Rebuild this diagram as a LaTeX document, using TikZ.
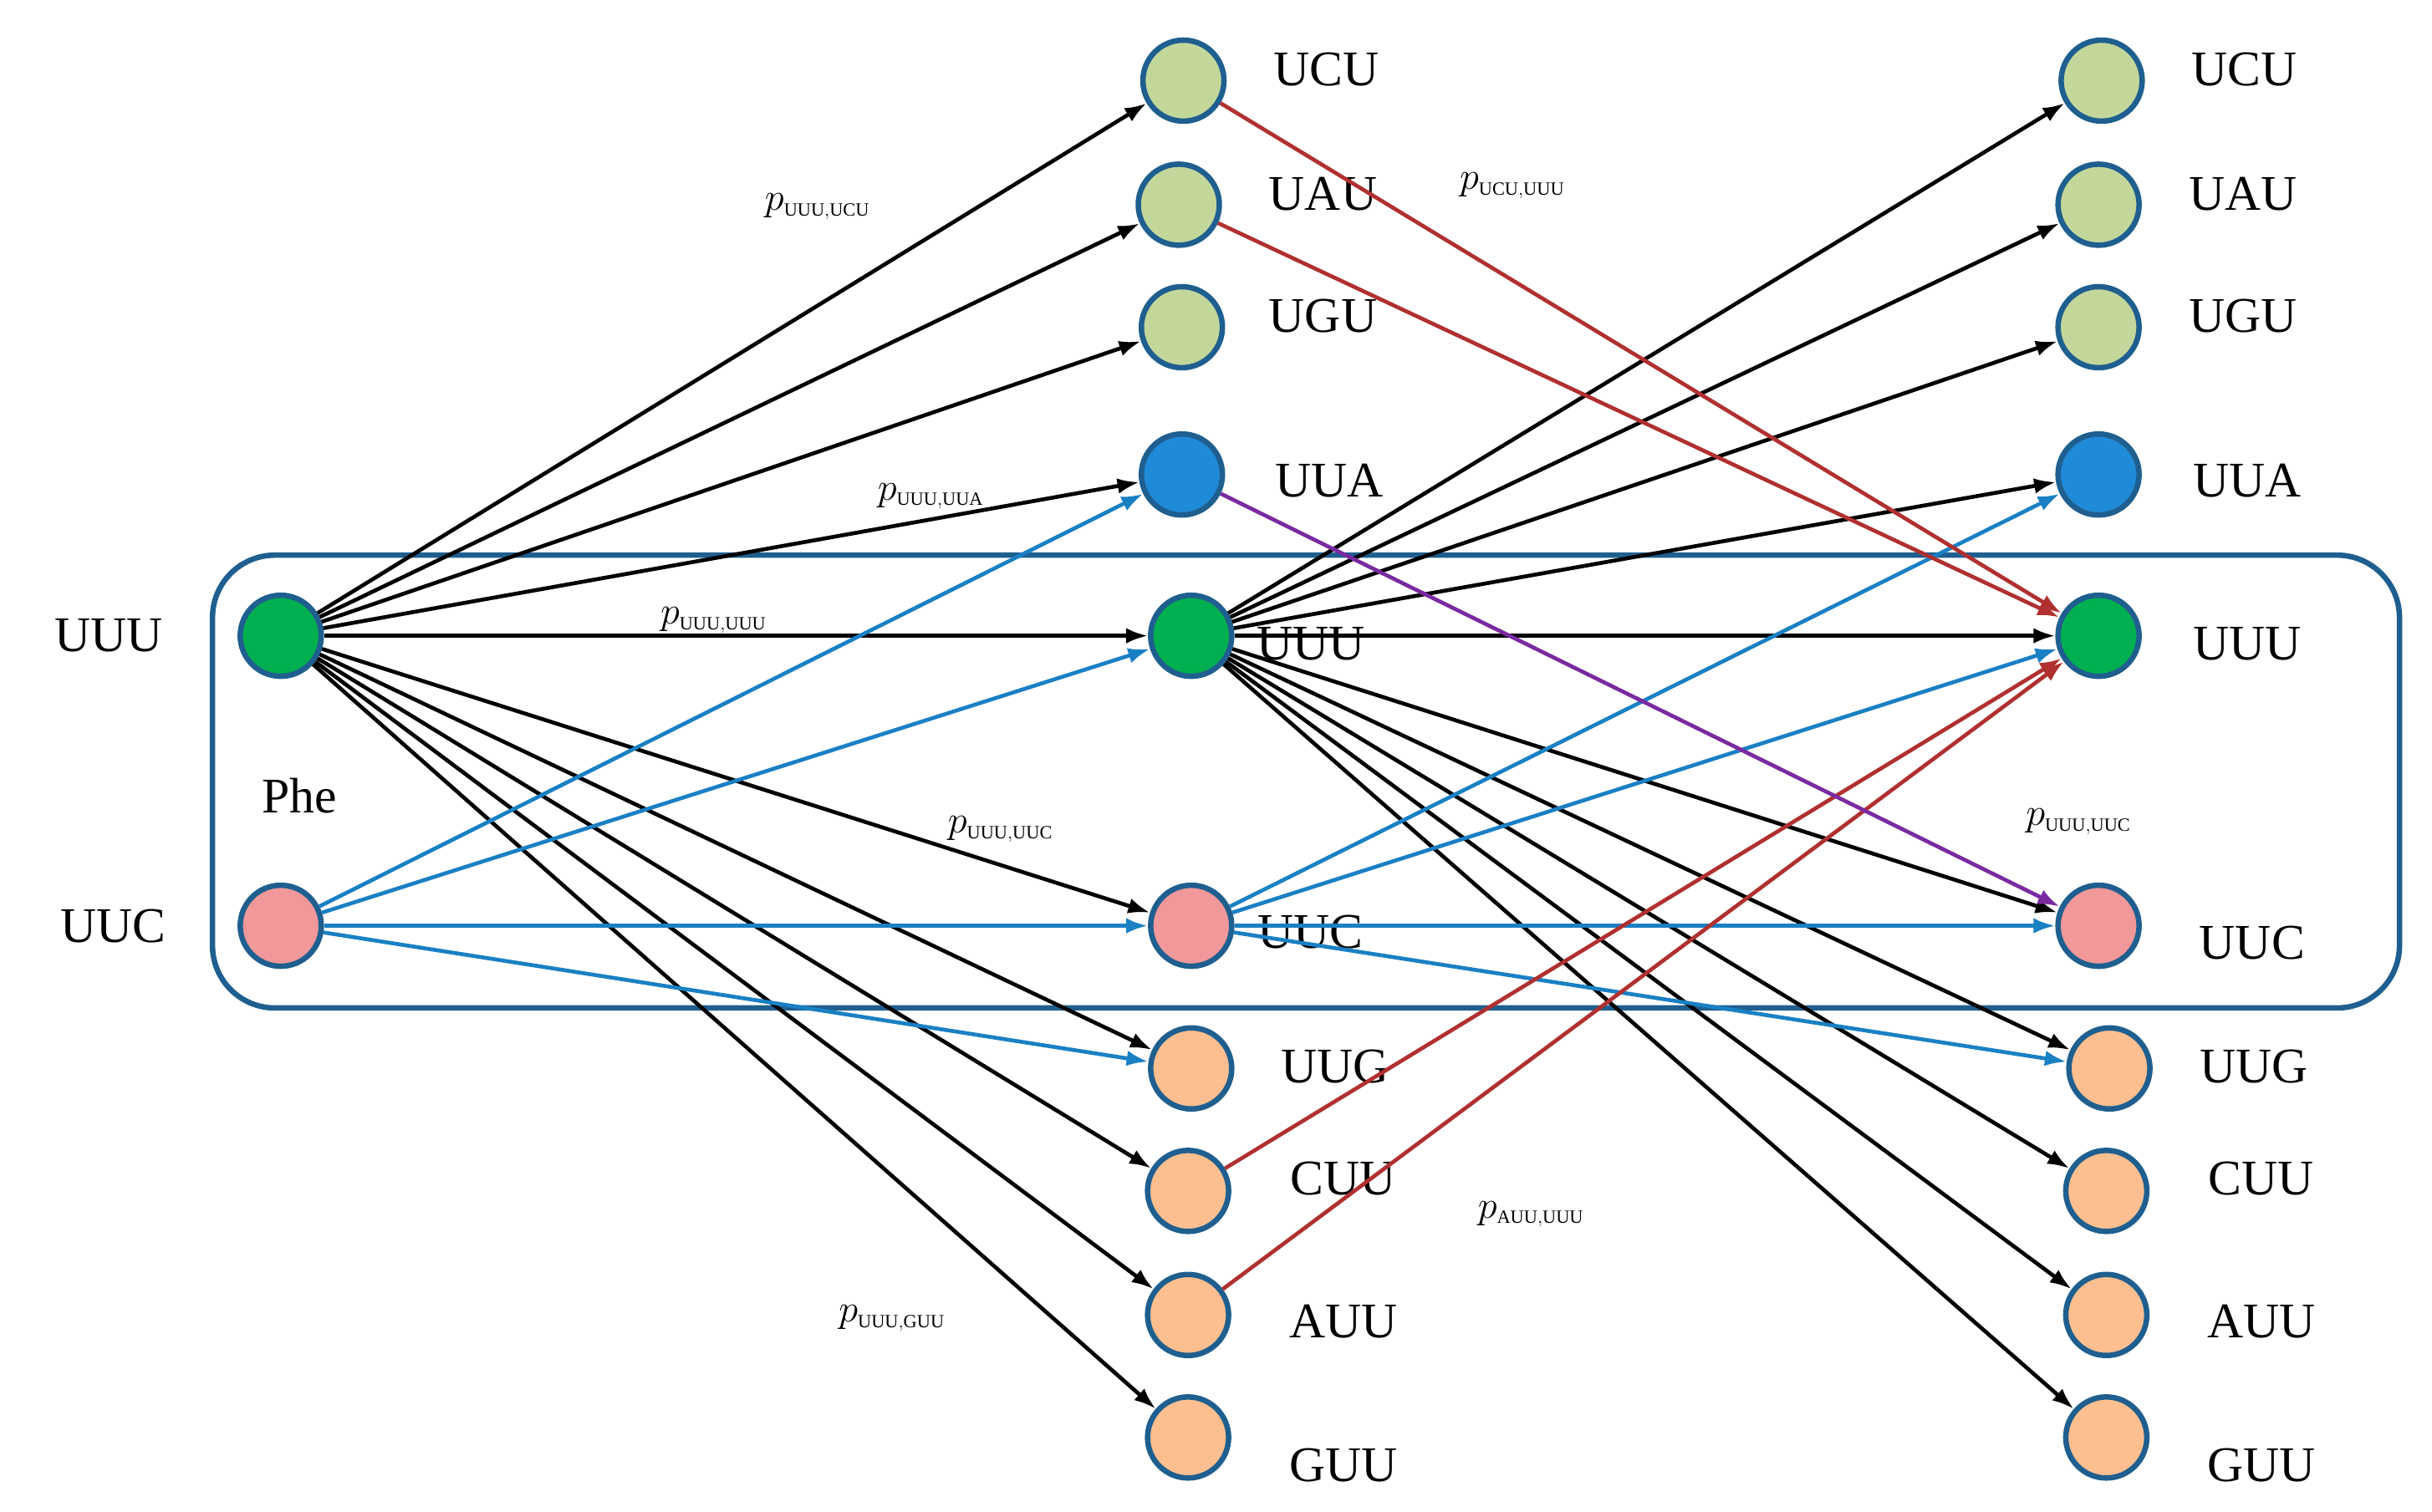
\documentclass[tikz,border=0pt]{standalone}
\usepackage{fontspec}
\setmainfont{Liberation Serif}
\usetikzlibrary{arrows.meta}
\definecolor{cgreen}{HTML}{00B050}
\definecolor{clgreen}{HTML}{C4D79B}
\definecolor{cblue}{HTML}{1F8AD8}
\definecolor{cpink}{HTML}{F0989A}
\definecolor{corange}{HTML}{FDBF8F}
\definecolor{cborder}{HTML}{1F5F8F}
\definecolor{cedgeblue}{HTML}{1A80C4}
\definecolor{cred}{HTML}{B03030}
\definecolor{cpurple}{HTML}{7A2AA0}
\begin{document}
\begin{tikzpicture}[x=0.995pt,y=-0.995pt,
  st/.style={circle,minimum size=52pt,inner sep=0pt,draw=cborder,line width=3.5pt},
  g/.style={st,fill=cgreen}, lg/.style={st,fill=clgreen}, bl/.style={st,fill=cblue},
  pk/.style={st,fill=cpink}, og/.style={st,fill=corange},
  lab/.style={font=\fontsize{32}{36}\selectfont},
  pl/.style={font=\fontsize{24}{28}\selectfont},
  e/.style={line width=2.5pt,-{Latex[length=14pt,width=10pt]}},
  k/.style={e,black}, b/.style={e,cedgeblue}, r/.style={e,cred}, pu/.style={e,cpurple}]
\useasboundingbox (0,0) rectangle (1568,975);
\draw[cborder,line width=3.5pt,rounded corners=40pt] (137,358) rectangle (1547,650);
% column 1
\node[g] (a1) at (181,410) {};
\node[pk] (a2) at (181,597) {};
% column 2
\node[lg] (b1) at (763,52) {};
\node[lg] (b2) at (760,132) {};
\node[lg] (b3) at (762,211) {};
\node[bl] (b4) at (762,306) {};
\node[g] (b5) at (768,410) {};
\node[pk] (b6) at (768,597) {};
\node[og] (b7) at (768,689) {};
\node[og] (b8) at (766,768) {};
\node[og] (b9) at (766,848) {};
\node[og] (b10) at (766,927) {};
% column 3
\node[lg] (c1) at (1355,52) {};
\node[lg] (c2) at (1353,132) {};
\node[lg] (c3) at (1353,211) {};
\node[bl] (c4) at (1353,306) {};
\node[g] (c5) at (1353,410) {};
\node[pk] (c6) at (1353,597) {};
\node[og] (c7) at (1360,689) {};
\node[og] (c8) at (1358,768) {};
\node[og] (c9) at (1358,848) {};
\node[og] (c10) at (1358,927) {};
% labels
\node[lab] (la1) at (70,410) {UUU};
\node[lab] (la2) at (73,597) {UUC};
\node[lab] (lphe) at (193,513) {Phe};
\node[lab] (lb1) at (855,45) {UCU};
\node[lab] (lb2) at (853,125) {UAU};
\node[lab] (lb3) at (853,204) {UGU};
\node[lab] (lb4) at (857,310) {UUA};
\node[lab] (lb5) at (845,415) {UUU};
\node[lab] (lb6) at (845,601) {UUC};
\node[lab] (lb7) at (861,688) {UUG};
\node[lab] (lb8) at (866,760) {CUU};
\node[lab] (lb9) at (866,852) {AUU};
\node[lab] (lb10) at (866,945) {GUU};
\node[lab] (lc1) at (1447,45) {UCU};
\node[lab] (lc2) at (1446,125) {UAU};
\node[lab] (lc3) at (1446,204) {UGU};
\node[lab] (lc4) at (1449,310) {UUA};
\node[lab] (lc5) at (1449,415) {UUU};
\node[lab] (lc6) at (1452,608) {UUC};
\node[lab] (lc7) at (1453,688) {UUG};
\node[lab] (lc8) at (1458,760) {CUU};
\node[lab] (lc9) at (1458,852) {AUU};
\node[lab] (lc10) at (1458,945) {GUU};
% edges black
\foreach \t in {b1,b2,b3,b4,b5,b6,b7,b8,b9,b10} \draw[k] (a1) -- (\t);
\foreach \t in {c1,c2,c3,c4,c5,c6,c7,c8,c9,c10} \draw[k] (b5) -- (\t);
% blue
\foreach \t in {b4,b5,b6,b7} \draw[b] (a2) -- (\t);
\foreach \t in {c4,c5,c6,c7} \draw[b] (b6) -- (\t);
% red
\foreach \s in {b1,b2,b8,b9} \draw[r] (\s) -- (c5);
% purple
\draw[pu] (b4) -- (c6);
% probability labels
\node[pl] (p1) at (527,133) {$p_{\mathrm{\scriptscriptstyle UUU,UCU}}$};
\node[pl] (p2) at (975,120) {$p_{\mathrm{\scriptscriptstyle UCU,UUU}}$};
\node[pl] (p3) at (600,320) {$p_{\mathrm{\scriptscriptstyle UUU,UUA}}$};
\node[pl] (p4) at (460,400) {$p_{\mathrm{\scriptscriptstyle UUU,UUU}}$};
\node[pl] (p5) at (645,535) {$p_{\mathrm{\scriptscriptstyle UUU,UUC}}$};
\node[pl] (p6) at (1340,530) {$p_{\mathrm{\scriptscriptstyle UUU,UUC}}$};
\node[pl] (p7) at (987,783) {$p_{\mathrm{\scriptscriptstyle AUU,UUU}}$};
\node[pl] (p8) at (575,850) {$p_{\mathrm{\scriptscriptstyle UUU,GUU}}$};
\end{tikzpicture}
\end{document}
